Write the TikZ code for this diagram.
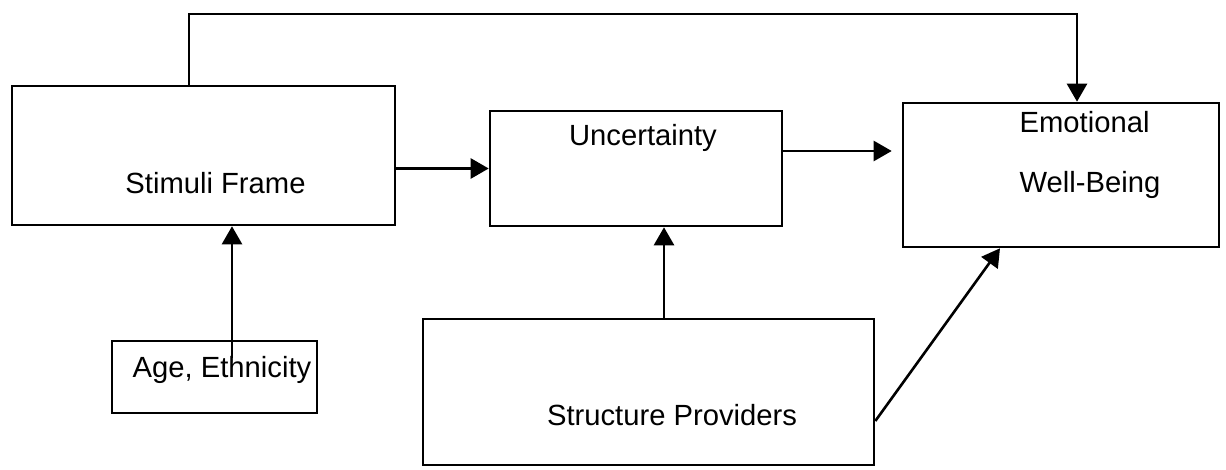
\documentclass[tikz,border=0pt]{standalone}
\usepackage{fontspec}
\setmainfont{Liberation Sans}
\usetikzlibrary{positioning, arrows.meta}

\begin{document}
\begin{tikzpicture}[x=0.5pt, y=-0.5pt,
  box/.style={rectangle, draw, line width=1.3pt, inner sep=0pt},
  arr/.style={-{Triangle[length=9pt, width=10pt]}, line width=1.3pt},
  font=\fontsize{14.6}{18}\selectfont]
\useasboundingbox (0,0) rectangle (1226,470);
\node[box, minimum width=191.5pt, minimum height=69.5pt,
  label={[xshift=6pt, yshift=-13.75pt]center:Stimuli Frame}] (stim) at (203.5,155.5) {};
\node[box, minimum width=146pt, minimum height=57.5pt,
  label={[xshift=3.5pt, yshift=15.25pt]center:Uncertainty}] (unc) at (636,168.5) {};
\node[box, minimum width=158pt, minimum height=72pt,
  label={[xshift=14.5pt, yshift=10pt, align=left]center:Emotional\\[12pt]Well-Being}] (ewb) at (1061,175) {};
\node[box, minimum width=102.5pt, minimum height=36pt,
  label={[xshift=3.75pt, yshift=3.5pt]center:Age, Ethnicity}] (age) at (214.5,377) {};
\node[box, minimum width=225.5pt, minimum height=73pt,
  label={[xshift=11.75pt, yshift=-11.5pt]center:Structure Providers}] (struct) at (648.5,392) {};
\coordinate (t1) at (189,14);
\coordinate (t2) at (1077,14);
\coordinate (a0) at (232,358);
\coordinate (s0) at (664,0);
\draw[arr] (t1 |- stim.north) -- (t1) -- (t2) -- (t2 |- ewb.north);
\draw[arr] (stim.east |- unc.west) -- (unc.west);
\draw[arr] ([yshift=8.75pt]unc.east) -- ([xshift=-5pt, yshift=12pt]ewb.west);
\draw[arr] (a0) -- (a0 |- stim.south);
\draw[arr] (s0 |- struct.north) -- (s0 |- unc.south);
\draw[arr] ([yshift=-14.5pt]struct.east) -- ([xshift=-30.5pt]ewb.south);
\end{tikzpicture}
\end{document}
